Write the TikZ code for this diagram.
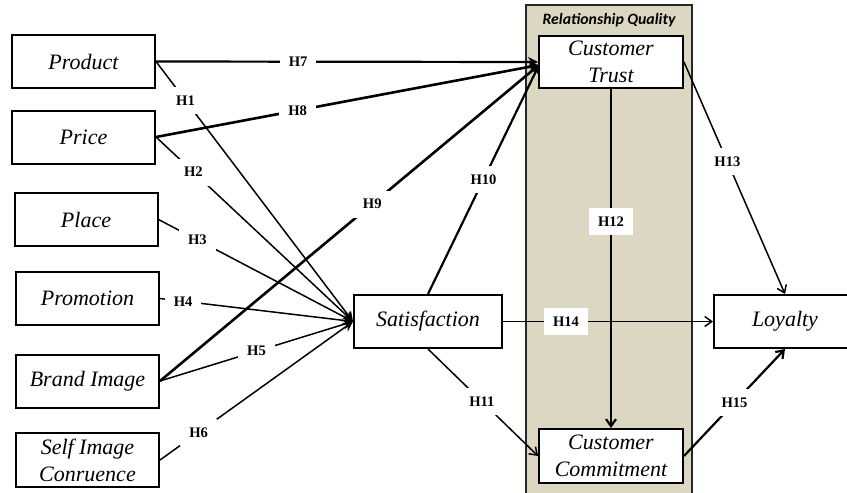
\documentclass[tikz,border=0pt]{standalone}
\usepackage{fontspec}
\setmainfont{Liberation Serif}
\newfontfamily\tnr{Liberation Serif}
\newfontfamily\rqfont{Carlito}
\usetikzlibrary{arrows.meta}
\definecolor{rqbg}{HTML}{DCD7C2}
\tikzset{
  box/.style={draw=black, line width=1pt, fill=white, minimum width=71.5pt, minimum height=26.5pt, inner sep=1pt, align=center, font=\tnr\fontsize{11}{13.5}\selectfont\itshape},
  hlab/.style={fill=white, inner xsep=4.5pt, inner ysep=0pt, minimum height=13.5pt, font=\tnr\fontsize{7.3}{8}\selectfont\bfseries},
  thin/.style={line width=0.75pt},
  thick2/.style={line width=1.1pt},
  conv/.style={-{Stealth[length=5pt,width=5pt]}},
  barb/.style={-{Straight Barb[length=3.5pt,width=5pt]}},
}
\begin{document}
\begin{tikzpicture}[x=0.5pt,y=-0.5pt]
\clip (0,0) rectangle (847,493);
\fill[white] (0,0) rectangle (847,493);
% Relationship quality panel
\draw[fill=rqbg, draw=black!85, line width=0.8pt] (526,5) rectangle (692,498);
\node[font=\rqfont\fontsize{7.9}{9}\selectfont\bfseries\itshape] (rqt) at (609,20.5) {Relationship Quality};
% nodes
\node[box] (prod) at (83.5,61.5) {Product};
\node[box] (price) at (83.5,137) {Price};
\node[box] (place) at (86,219.5) {Place};
\node[box] (promo) at (87.5,298.5) {Promotion};
\node[box] (brand) at (87.5,381) {Brand Image};
\node[box, minimum height=27pt] (self) at (87.5,460) {Self Image\\Conruence};
\node[box, minimum width=74pt] (sat) at (428,321.5) {Satisfaction};
\node[box, minimum width=72pt, minimum height=26pt] (ct) at (611,62) {Customer\\Trust};
\node[box, minimum width=72pt, minimum height=27pt] (cc) at (611,456) {Customer\\Commitment};
\node[box, minimum width=71pt] (loy) at (785,321.5) {Loyalty};
\coordinate (ctin) at (539,65);
% to Satisfaction
\draw[thin,conv] (prod.east) -- node[hlab,pos=0.15]{H1} (sat.west);
\draw[thin,conv] (price.east) -- node[hlab,pos=0.19]{H2} (sat.west);
\draw[thin,conv] (place.east) -- node[hlab,pos=0.2]{H3} (sat.west);
\draw[thin,conv] (promo.east) -- node[hlab,pos=0.12]{H4} (sat.west);
\draw[thin,conv] (brand.east) -- node[hlab,pos=0.5]{H5} (sat.west);
\draw[thin,conv] (self.east) -- node[hlab,pos=0.2]{H6} (sat.west);
% to Customer Trust
\draw[thick2,conv] (prod.east) -- node[hlab,pos=0.372]{H7} (ct.west);
\draw[line width=1.3pt,conv] (price.east) -- node[hlab,pos=0.37]{H8} (ctin);
\draw[line width=1.3pt,conv] (brand.east) -- node[hlab,pos=0.56]{H9} (ctin);
\draw[thick2,conv] (sat.north) -- node[hlab,pos=0.5]{H10} (ctin);
% others
\draw[thin,barb] (sat.south) -- node[hlab,pos=0.49]{H11} (cc.west);
\draw[thick2,barb] (ct.south) -- node[hlab,pos=0.39]{H12} (cc.north);
\draw[thin,barb] (ct.east) -- node[hlab,pos=0.43]{H13} (loy.north);
\draw[thin,barb] (sat.east) -- node[hlab,pos=0.3]{H14} (loy.west);
\draw[thick2,barb] (cc.east) -- node[hlab,pos=0.5]{H15} (loy.south);
\end{tikzpicture}
\end{document}
